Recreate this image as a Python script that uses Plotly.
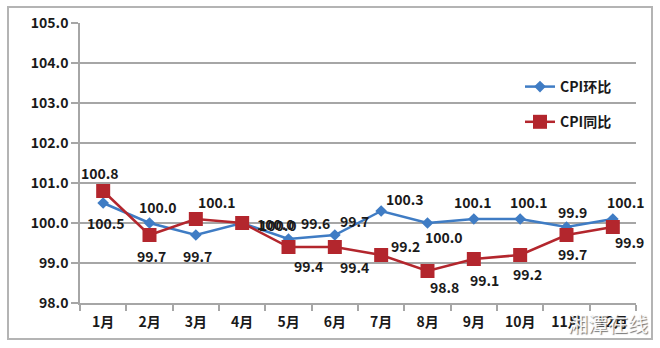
import plotly.graph_objects as go

# Monthly CPI indices (previous period = 100)
months = ["1月", "2月", "3月", "4月", "5月", "6月", "7月", "8月", "9月", "10月", "11月", "12月"]
cpi_mom = [100.5, 100.0, 99.7, 100.0, 99.6, 99.7, 100.3, 100.0, 100.1, 100.1, 99.9, 100.1]
cpi_yoy = [100.8, 99.7, 100.1, 100.0, 99.4, 99.4, 99.2, 98.8, 99.1, 99.2, 99.7, 99.9]
y_ticks = [98, 99, 100, 101, 102, 103, 104, 105]

# Pixel offsets (dx right, dy down) of each value label from its point
mom_off = [(3, 20), (8, -16), (2, 21), (34, 1), (27, -16), (20, -14),
           (24, -12), (16, 14), (-1, -17), (9, -17), (6, -15), (13, -17)]
yoy_off = [(-3, -18), (2, 21), (21, -17), (36, 2), (20, 19), (20, 20),
           (24, -9), (17, 16), (11, 21), (7, 19), (6, 19), (17, 15)]

BLUE = "#3f7cc4"
RED = "#b3262d"
GRID = "#a6a6a6"
FONT = "Noto Sans CJK SC"
INK = "#1a1a1a"

fig = go.Figure()
fig.add_trace(go.Scatter(
    x=months, y=cpi_mom, name="CPI环比", mode="lines+markers",
    line=dict(color=BLUE, width=2.5),
    marker=dict(symbol="diamond", size=9, color=BLUE),
    legendgroup="a",
))
fig.add_trace(go.Scatter(
    x=months, y=cpi_yoy, name="CPI同比", mode="lines+markers",
    line=dict(color=RED, width=2.5),
    marker=dict(symbol="square", size=14, color=RED),
    legendgroup="b",
))

for series, offsets in ((cpi_mom, mom_off), (cpi_yoy, yoy_off)):
    for m, v, (dx, dy) in zip(months, series, offsets):
        fig.add_annotation(x=m, y=v, text=f"{v:.1f}", showarrow=False,
                           xanchor="center", yanchor="middle",
                           xshift=dx, yshift=-dy,
                           font=dict(family=FONT, size=14, color=INK, weight="bold"))

# Plot area spans x 80..636 px, y 23..303 px; the frame is drawn in paper units
pw, ph = 556, 280
fig.add_shape(type="rect", xref="paper", yref="paper",
              x0=(8 - 80) / pw, x1=(652 - 80) / pw,
              y0=(303 - 339) / ph, y1=(303 - 7) / ph,
              line=dict(color="#b4b4b4", width=2), layer="below")

fig.add_annotation(text="湘潭在线", xref="paper", yref="paper",
                   x=(650 - 80) / pw, y=(303 - 323) / ph, xanchor="right", yanchor="middle",
                   showarrow=False,
                   font=dict(family=FONT, size=20, color="rgba(255,255,255,0.92)",
                             shadow="1px 1px 1px #666"))

fig.update_layout(
    width=660, height=348,
    margin=dict(l=80, r=24, t=23, b=45),
    paper_bgcolor="white", plot_bgcolor="white",
    font=dict(family=FONT, color=INK),
    showlegend=True,
    legend=dict(x=(520 - 80) / pw, y=(303 - 71) / ph, xanchor="left", yanchor="top",
                bgcolor="rgba(255,255,255,0)", tracegroupgap=14, itemwidth=30,
                font=dict(family=FONT, size=14, weight="bold", color=INK)),
    xaxis=dict(
        type="category", range=[-0.5, 11.5], tickson="boundaries",
        ticks="outside", ticklen=6, tickcolor=GRID, tickwidth=1.5,
        showline=True, linecolor=GRID, linewidth=1.5, showgrid=False,
        ticklabelstandoff=5,
        tickfont=dict(family=FONT, size=14, weight="bold", color=INK),
        fixedrange=True,
    ),
    yaxis=dict(
        range=[98, 105], tickvals=y_ticks, tickformat=".1f",
        ticks="outside", ticklen=7, tickcolor=GRID, tickwidth=1.5,
        showline=True, linecolor=GRID, linewidth=1.5,
        showgrid=True, gridcolor=GRID, gridwidth=1.5, zeroline=False,
        tickfont=dict(family=FONT, size=14, weight="bold", color=INK),
    ),
)

fig.write_html("out.html")
